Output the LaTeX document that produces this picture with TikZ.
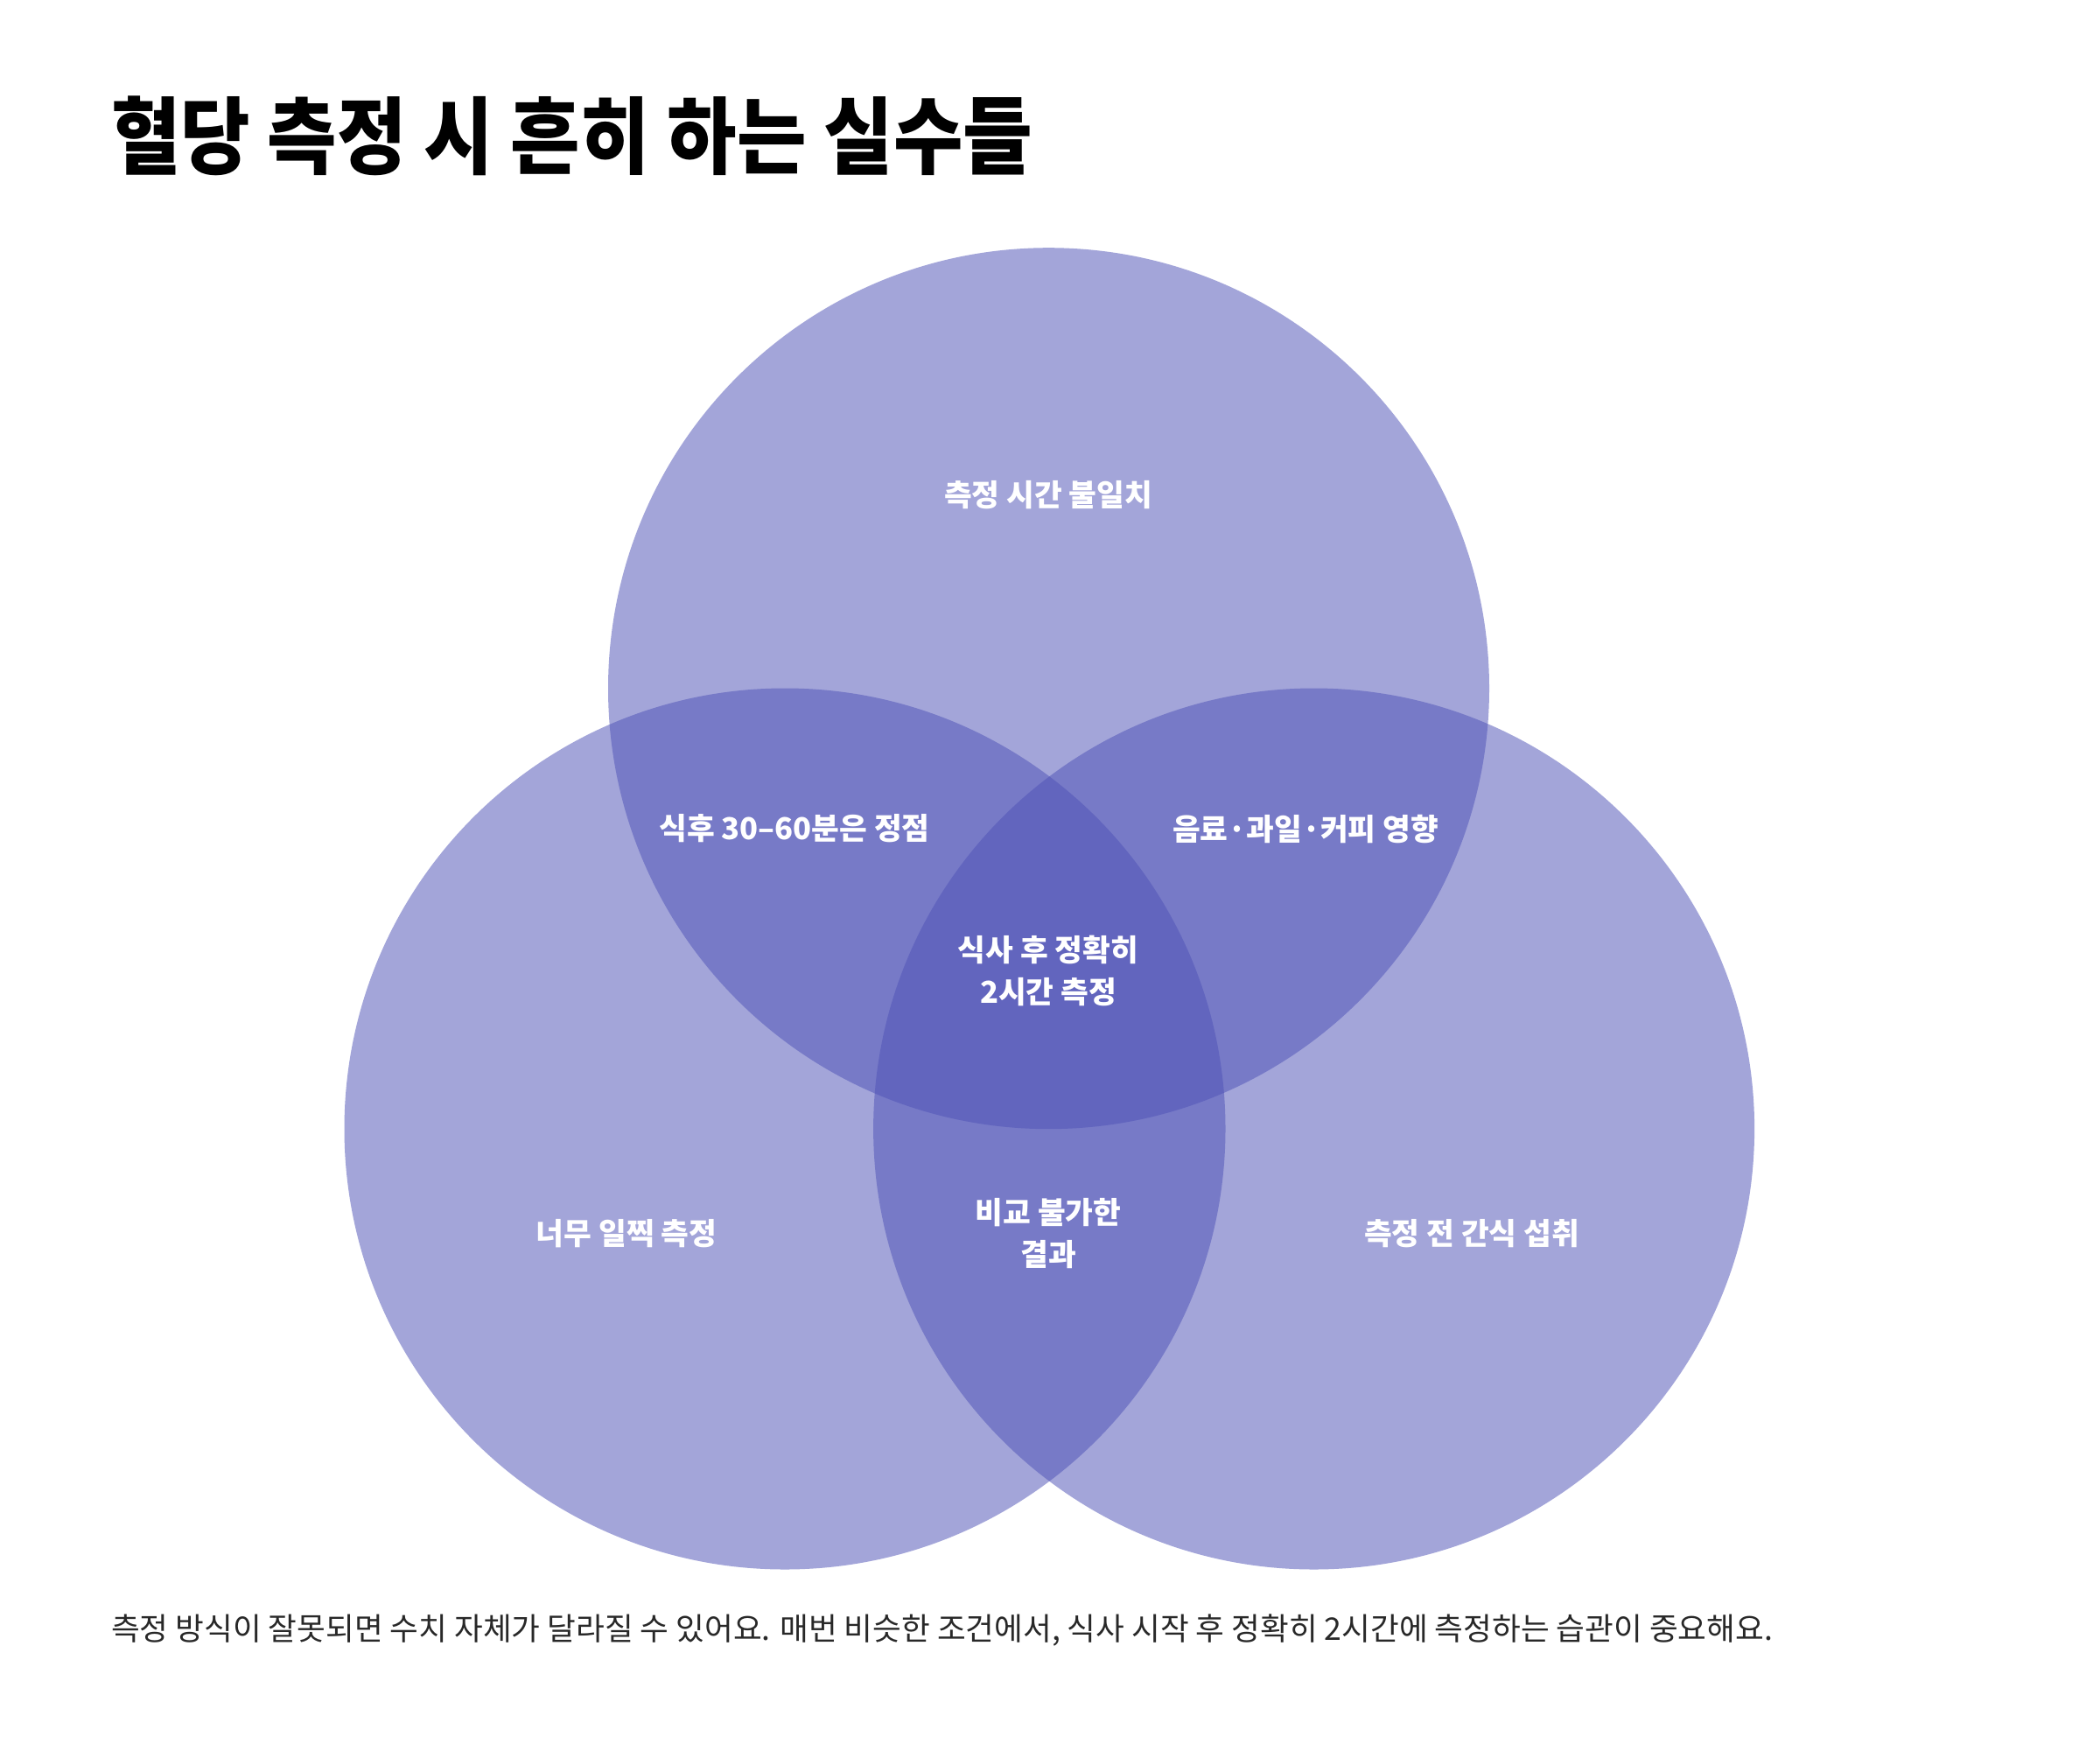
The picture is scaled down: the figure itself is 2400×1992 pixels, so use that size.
\documentclass[tikz,border=0pt]{standalone}
\usepackage{fontspec}
\setmainfont{Noto Sans CJK KR}
\newfontfamily\krfont{Noto Sans CJK KR}
\newfontfamily\krtitle[FakeStretch=0.9]{Noto Sans CJK KR}
\definecolor{venn}{RGB}{79,83,183}
\definecolor{foot}{RGB}{40,40,40}
\tikzset{
  venncircle/.style={circle, fill=venn, fill opacity=0.52, draw=none, minimum size=1007pt, inner sep=0pt},
  lbl/.style={text=white, align=center, font=\krfont\bfseries\fontsize{34.5}{48}\selectfont, inner sep=0pt},
}
\begin{document}
\begin{tikzpicture}[x=1pt,y=-1pt]
\useasboundingbox[fill=white] (0,0) rectangle (2400,1992);
\node[anchor=west, inner sep=0pt, font=\krtitle\bfseries\fontsize{96}{110}\selectfont] (title) at (127,155) {혈당 측정 시 흔히 하는 실수들};
\node[venncircle] (top) at (1198.5,786.7) {};
\node[venncircle] (left) at (897,1290) {};
\node[venncircle] (right) at (1501.6,1290) {};
\node[lbl] (t1) at (1198,566) {측정 시간 불일치};
\node[lbl] (t2) at (908,947) {식후 30–60분은 정점};
\node[lbl] (t3) at (1492,947) {음료·과일·커피 영향};
\node[lbl] (t4) at (1198,1109) {식사 후 정확히\\2시간 측정};
\node[lbl] (t5) at (716,1410) {너무 일찍 측정};
\node[lbl] (t6) at (1198,1410) {비교 불가한\\결과};
\node[lbl] (t7) at (1682,1410) {측정 전 간식 섭취};
\node[anchor=west, inner sep=0pt, text=foot, font=\krfont\fontsize{35.6}{42}\selectfont] (foot) at (127,1863) {측정 방식이 잘못되면 수치 자체가 달라질 수 있어요. 매번 비슷한 조건에서, 식사 시작 후 정확히 2시간에 측정하는 습관이 중요해요.};
\end{tikzpicture}
\end{document}
